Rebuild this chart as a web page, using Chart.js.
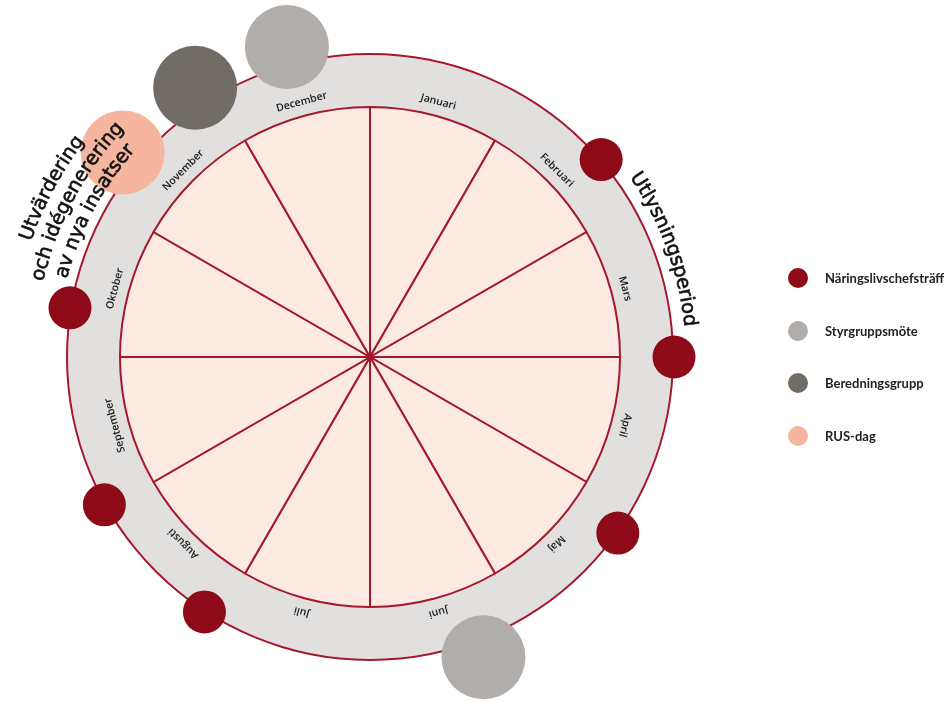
<!DOCTYPE html>
<html>
<head>
<meta charset="utf-8">
<script src="https://cdn.jsdelivr.net/npm/chart.js@4.4.0/dist/chart.umd.min.js"></script>
<style>
html, body { margin: 0; padding: 0; background: #fff; }
#wrap { position: relative; width: 952px; height: 702px; overflow: hidden; }
#wrap canvas { position: absolute; left: 0; top: 0; }
#legend { position: absolute; left: 788px; top: 0; font-family: Lato, "Open Sans", sans-serif; font-weight: bold; font-size: 13px; color: #222; }
.item { position: absolute; left: 0; display: flex; align-items: center; white-space: nowrap; height: 20px; }
.dot { width: 20px; height: 20px; border-radius: 50%; margin-right: 17px; flex: none; }
</style>
</head>
<body>
<div id="wrap">
  <canvas id="wheel" width="952" height="702"></canvas>
  <canvas id="events" width="952" height="702"></canvas>
  <div id="legend"></div>
</div>
<script>
// months of the year wheel, each one equal slice
var months = ["Januari", "Februari", "Mars", "April", "Maj", "Juni", "Juli",
  "Augusti", "September", "Oktober", "November", "December"];
var monthShare = [1, 1, 1, 1, 1, 1, 1, 1, 1, 1, 1, 1];

// events, as position in the year (0 = start of Januari, 12 = end of December)
var seriesNames = ["Näringslivschefsträff", "Styrgruppsmöte", "Beredningsgrupp", "RUS-dag"];
var seriesColors = ["#8e0a18", "#b0adaa", "#726c66", "#f5b59e"];
var naringsliv = [1.65, 3.0, 4.18, 7.1, 8.03, 9.31];
var styrgrupp = [5.31, 11.5];
var beredning = [10.9];
var rusdag = [10.32];

// period labels outside the wheel (centre position in the year)
var periodText = [
  { lines: ["Utlysningsperiod"], pos: 2.33, dist: 321 },
  { lines: ["Utvärdering", "och idégenerering", "av nya insatser"], pos: 9.93, dist: 318 }
];

var lineRed = "#a3192b";
var ringR = 304;

function toPoint(m, dist, size) {
  var a = m / 12 * 2 * Math.PI;
  return { x: dist * Math.sin(a), y: dist * Math.cos(a), r: size };
}

// month names written along the grey ring
var monthLabels = {
  id: "monthLabels",
  afterDatasetsDraw: function (chart) {
    var ctx = chart.ctx;
    var arcs = chart.getDatasetMeta(2).data;
    ctx.save();
    ctx.font = "600 10.5px 'Open Sans'";
    ctx.fillStyle = "#1a1a1a";
    ctx.textAlign = "center";
    ctx.textBaseline = "middle";
    arcs.forEach(function (arc, i) {
      var a = (arc.startAngle + arc.endAngle) / 2;
      var r = arc.outerRadius + 14;
      ctx.save();
      ctx.translate(arc.x + r * Math.cos(a), arc.y + r * Math.sin(a));
      ctx.rotate(a + Math.PI / 2);
      ctx.fillText(months[i], 0, 0);
      ctx.restore();
    });
    ctx.restore();
  }
};

function arcText(ctx, cx, cy, text, R, mid) {
  var w = ctx.measureText(text).width;
  var a = mid - w / 2 / R;
  for (var k = 0; k < text.length; k++) {
    var ch = text[k];
    var cw = ctx.measureText(ch).width;
    var ac = a + cw / 2 / R;
    ctx.save();
    ctx.translate(cx + R * Math.sin(ac), cy - R * Math.cos(ac));
    ctx.rotate(ac);
    ctx.fillText(ch, 0, 0);
    ctx.strokeText(ch, 0, 0);
    ctx.restore();
    a += cw / R;
  }
}

var periodLabels = {
  id: "periodLabels",
  afterDatasetsDraw: function (chart) {
    var ctx = chart.ctx;
    var cx = chart.scales.x.getPixelForValue(0);
    var cy = chart.scales.y.getPixelForValue(0);
    ctx.save();
    ctx.font = "19.5px 'DejaVu Sans'";
    ctx.fillStyle = "#111";
    ctx.strokeStyle = "#111";
    ctx.lineWidth = 0.6;
    ctx.textAlign = "center";
    ctx.textBaseline = "middle";
    periodText.forEach(function (p) {
      var mid = p.pos / 12 * 2 * Math.PI;
      var n = p.lines.length;
      p.lines.forEach(function (t, j) {
        arcText(ctx, cx, cy, t, p.dist + (n - 1 - j) * 22.5, mid);
      });
    });
    ctx.restore();
  }
};

new Chart("wheel", {
  type: "doughnut",
  data: {
    labels: months,
    datasets: [
      { data: [1], backgroundColor: lineRed, borderWidth: 0, weight: 2 },
      { data: [1], backgroundColor: "#e1e0df", borderWidth: 0, weight: 52 },
      { data: monthShare, backgroundColor: "#fce9e2", borderColor: lineRed, borderWidth: 2, weight: 250, order: -1 }
    ]
  },
  options: {
    responsive: false,
    animation: false,
    events: [],
    cutout: 0,
    radius: ringR,
    layout: { autoPadding: false, padding: { left: 0, right: 212, top: 12, bottom: 0 } },
    plugins: { legend: { display: false }, tooltip: { enabled: false } }
  },
  plugins: [monthLabels]
});

var eventSets = [
  naringsliv.map(function (m) { return toPoint(m, ringR, 21.5); }),
  styrgrupp.map(function (m) { return toPoint(m, 321, 42); }),
  beredning.map(function (m) { return toPoint(m, 321, 42); }),
  rusdag.map(function (m) { return toPoint(m, 321, 42); })
];

new Chart("events", {
  type: "bubble",
  data: {
    datasets: seriesNames.map(function (name, i) {
      return { label: name, data: eventSets[i], backgroundColor: seriesColors[i], borderWidth: 0, clip: false };
    })
  },
  options: {
    responsive: false,
    animation: false,
    events: [],
    layout: { autoPadding: false, padding: { left: 0, right: 212, top: 12, bottom: 0 } },
    scales: {
      x: { type: "linear", min: -370, max: 370, display: false },
      y: { type: "linear", min: -345, max: 345, display: false }
    },
    plugins: { legend: { display: false }, tooltip: { enabled: false } }
  },
  plugins: [periodLabels]
});

// legend
var legend = document.getElementById("legend");
seriesNames.forEach(function (name, i) {
  var item = document.createElement("div");
  item.className = "item";
  item.style.top = (268 + i * 52.7) + "px";
  var dot = document.createElement("span");
  dot.className = "dot";
  dot.style.background = seriesColors[i];
  var txt = document.createElement("span");
  txt.textContent = name;
  item.appendChild(dot);
  item.appendChild(txt);
  legend.appendChild(item);
});
</script>
</body>
</html>
